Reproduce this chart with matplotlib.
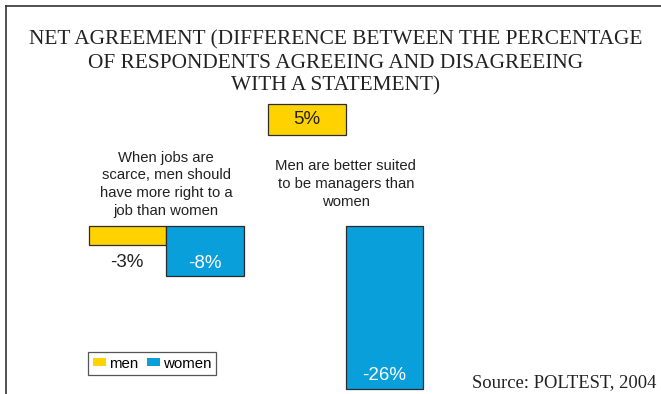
import matplotlib.pyplot as plt
from matplotlib.lines import Line2D
from matplotlib.patches import Patch

plt.rcParams['font.family'] = ['Liberation Sans', 'DejaVu Sans']

# net agreement, % (men, women) for each statement
statements = ['When jobs are\nscarce, men should\nhave more right to a\njob than women',
              'Men are better suited\nto be managers than\nwomen']
men = [-3, 5]
women = [-8, -26]
series = ['men', 'women']
title_lines = ['NET AGREEMENT (DIFFERENCE BETWEEN THE PERCENTAGE',
               'OF RESPONDENTS AGREEING AND DISAGREEING',
               'WITH A STATEMENT)']

yellow = '#FFD200'
blue = '#089FDA'
edge = '#2b2b2b'

W, H = 661, 394
fig = plt.figure(figsize=(W / 100, H / 100), dpi=100)
# axes fill the whole figure; limits chosen so zero sits at y=226px, 6.25px per %
ax = fig.add_axes([0, 0, 1, 1])
ax.set_xlim(-166 / 77.5, (W - 166) / 77.5)
ax.set_ylim(-(H - 226) / 6.25, 226 / 6.25)
ax.axis('off')

group_x = [0, 2.32]
bw = 1.0
lift = [0, 14.5]   # the positive bar is drawn up above the labels

for i in range(len(statements)):
    gx = group_x[i]
    ax.bar(gx - bw / 2, men[i], width=bw, bottom=lift[i], color=yellow,
           edgecolor=edge, linewidth=0.9)
    ax.bar(gx + bw / 2, women[i], width=bw, color=blue,
           edgecolor=edge, linewidth=0.9)
    # value labels
    if men[i] < 0:
        ax.text(gx - bw / 2, men[i] - 2.9, '%d%%' % men[i], ha='center',
                va='center', fontsize=13.5, color='#222222')
    else:
        ax.text(gx - bw / 2, lift[i] + men[i] / 2, '%d%%' % men[i], ha='center',
                va='center', fontsize=13.5, color='#222222')
    ax.text(gx + bw / 2, women[i] + 2, '%d%%' % women[i], ha='center',
            va='center', fontsize=13.5, color='white')
    ax.text(gx, 6.7, statements[i], ha='center', va='center', fontsize=10.7,
            color='#222222', linespacing=1.33)

handles = [Patch(facecolor=yellow, edgecolor='none'),
           Patch(facecolor=blue, edgecolor='none')]
leg = fig.legend(handles, series, loc='upper left', ncol=2,
                 bbox_to_anchor=(88 / W, 1 - 352 / H), borderaxespad=0,
                 fontsize=10.8, frameon=True, fancybox=False,
                 handlelength=0.9, handleheight=0.5, handletextpad=0.2,
                 columnspacing=0.55, borderpad=0.3)
leg.get_frame().set_edgecolor(edge)
leg.get_frame().set_linewidth(0.9)

serif = ['Liberation Serif', 'DejaVu Serif']
for k, line in enumerate(title_lines):
    fig.text(336 / W, 1 - (40 + 23 * k) / H, line, ha='center', va='center',
             fontsize=15.4, family=serif, color='#222222')
fig.text(656 / W, 1 - 383 / H, 'Source: POLTEST, 2004', ha='right', va='center',
         fontsize=13.4, family=serif, color='#222222')

# open frame: top and left edges only
fig.add_artist(Line2D([6 / W, 1], [1 - 6 / H, 1 - 6 / H], color='#333333', lw=1.2))
fig.add_artist(Line2D([6 / W, 6 / W], [0, 1 - 6 / H], color='#333333', lw=1.2))

fig.savefig('out.png', dpi=100)
